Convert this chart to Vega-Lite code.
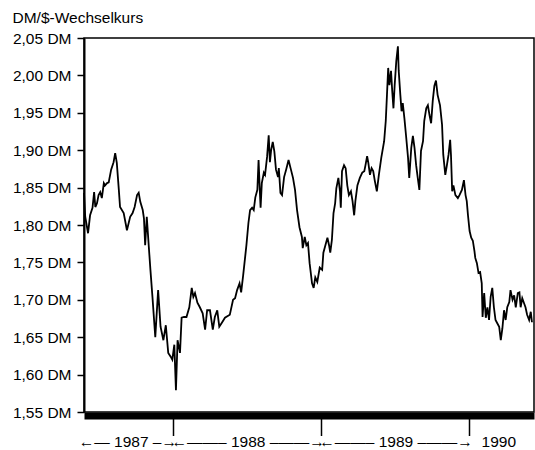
{
 "$schema": "https://vega.github.io/schema/vega-lite/v6.json",
 "width": 450,
 "height": 374,
 "autosize": "none",
 "padding": {"left": 84, "top": 38, "right": 1, "bottom": 38},
 "background": "white",
 "config": {"font": "Liberation Sans", "view": {"stroke": "black", "strokeWidth": 1.5}},
 "data": {"values": [
{"Datum":"1987-05-26","Kurs":1.843},{"Datum":"1987-05-29","Kurs":1.811},{"Datum":"1987-06-05","Kurs":1.789},{"Datum":"1987-06-10","Kurs":1.813},{"Datum":"1987-06-16","Kurs":1.823},{"Datum":"1987-06-20","Kurs":1.844},{"Datum":"1987-06-23","Kurs":1.824},{"Datum":"1987-06-27","Kurs":1.829},{"Datum":"1987-07-01","Kurs":1.840},{"Datum":"1987-07-05","Kurs":1.844},{"Datum":"1987-07-09","Kurs":1.836},{"Datum":"1987-07-14","Kurs":1.856},{"Datum":"1987-07-17","Kurs":1.853},{"Datum":"1987-07-22","Kurs":1.856},{"Datum":"1987-07-26","Kurs":1.857},{"Datum":"1987-08-01","Kurs":1.874},{"Datum":"1987-08-07","Kurs":1.884},{"Datum":"1987-08-11","Kurs":1.896},{"Datum":"1987-08-15","Kurs":1.883},{"Datum":"1987-08-20","Kurs":1.847},{"Datum":"1987-08-23","Kurs":1.824},{"Datum":"1987-09-01","Kurs":1.816},{"Datum":"1987-09-09","Kurs":1.793},{"Datum":"1987-09-17","Kurs":1.811},{"Datum":"1987-09-23","Kurs":1.816},{"Datum":"1987-09-28","Kurs":1.824},{"Datum":"1987-10-04","Kurs":1.840},{"Datum":"1987-10-08","Kurs":1.843},{"Datum":"1987-10-12","Kurs":1.831},{"Datum":"1987-10-18","Kurs":1.820},{"Datum":"1987-10-21","Kurs":1.809},{"Datum":"1987-10-24","Kurs":1.773},{"Datum":"1987-10-28","Kurs":1.811},{"Datum":"1987-11-02","Kurs":1.771},{"Datum":"1987-11-06","Kurs":1.740},{"Datum":"1987-11-11","Kurs":1.704},{"Datum":"1987-11-18","Kurs":1.650},{"Datum":"1987-11-25","Kurs":1.713},{"Datum":"1987-12-01","Kurs":1.664},{"Datum":"1987-12-08","Kurs":1.646},{"Datum":"1987-12-14","Kurs":1.666},{"Datum":"1987-12-20","Kurs":1.629},{"Datum":"1987-12-26","Kurs":1.624},{"Datum":"1987-12-30","Kurs":1.620},
{"Datum":"1988-01-04","Kurs":1.640},{"Datum":"1988-01-08","Kurs":1.579},{"Datum":"1988-01-12","Kurs":1.646},{"Datum":"1988-01-18","Kurs":1.629},{"Datum":"1988-01-22","Kurs":1.676},{"Datum":"1988-01-28","Kurs":1.677},{"Datum":"1988-02-03","Kurs":1.677},{"Datum":"1988-02-10","Kurs":1.690},{"Datum":"1988-02-16","Kurs":1.716},{"Datum":"1988-02-20","Kurs":1.704},{"Datum":"1988-02-24","Kurs":1.709},{"Datum":"1988-03-01","Kurs":1.696},{"Datum":"1988-03-07","Kurs":1.690},{"Datum":"1988-03-14","Kurs":1.682},{"Datum":"1988-03-20","Kurs":1.660},{"Datum":"1988-03-25","Kurs":1.686},{"Datum":"1988-04-01","Kurs":1.686},{"Datum":"1988-04-08","Kurs":1.660},{"Datum":"1988-04-13","Kurs":1.677},{"Datum":"1988-04-19","Kurs":1.686},{"Datum":"1988-04-24","Kurs":1.664},{"Datum":"1988-04-30","Kurs":1.669},{"Datum":"1988-05-08","Kurs":1.676},{"Datum":"1988-05-20","Kurs":1.680},{"Datum":"1988-05-28","Kurs":1.700},{"Datum":"1988-06-02","Kurs":1.702},{"Datum":"1988-06-07","Kurs":1.713},{"Datum":"1988-06-13","Kurs":1.722},{"Datum":"1988-06-17","Kurs":1.710},{"Datum":"1988-06-22","Kurs":1.733},{"Datum":"1988-06-30","Kurs":1.773},{"Datum":"1988-07-05","Kurs":1.803},{"Datum":"1988-07-09","Kurs":1.820},{"Datum":"1988-07-14","Kurs":1.823},{"Datum":"1988-07-18","Kurs":1.820},{"Datum":"1988-07-22","Kurs":1.837},{"Datum":"1988-07-27","Kurs":1.847},{"Datum":"1988-07-30","Kurs":1.887},{"Datum":"1988-08-02","Kurs":1.847},{"Datum":"1988-08-04","Kurs":1.823},{"Datum":"1988-08-07","Kurs":1.856},{"Datum":"1988-08-12","Kurs":1.870},{"Datum":"1988-08-15","Kurs":1.867},{"Datum":"1988-08-20","Kurs":1.891},{"Datum":"1988-08-24","Kurs":1.920},{"Datum":"1988-08-27","Kurs":1.884},{"Datum":"1988-08-30","Kurs":1.900},{"Datum":"1988-09-03","Kurs":1.911},{"Datum":"1988-09-07","Kurs":1.898},{"Datum":"1988-09-11","Kurs":1.874},{"Datum":"1988-09-16","Kurs":1.864},{"Datum":"1988-09-18","Kurs":1.876},{"Datum":"1988-09-22","Kurs":1.843},{"Datum":"1988-09-26","Kurs":1.840},{"Datum":"1988-10-01","Kurs":1.864},{"Datum":"1988-10-06","Kurs":1.874},{"Datum":"1988-10-12","Kurs":1.887},{"Datum":"1988-10-17","Kurs":1.876},{"Datum":"1988-10-23","Kurs":1.863},{"Datum":"1988-10-28","Kurs":1.847},{"Datum":"1988-11-02","Kurs":1.820},{"Datum":"1988-11-08","Kurs":1.797},{"Datum":"1988-11-14","Kurs":1.784},{"Datum":"1988-11-16","Kurs":1.769},{"Datum":"1988-11-21","Kurs":1.784},{"Datum":"1988-11-25","Kurs":1.773},{"Datum":"1988-11-29","Kurs":1.776},{"Datum":"1988-12-03","Kurs":1.749},{"Datum":"1988-12-09","Kurs":1.722},{"Datum":"1988-12-13","Kurs":1.716},{"Datum":"1988-12-17","Kurs":1.730},{"Datum":"1988-12-22","Kurs":1.724},{"Datum":"1988-12-28","Kurs":1.743},
{"Datum":"1989-01-03","Kurs":1.740},{"Datum":"1989-01-06","Kurs":1.763},{"Datum":"1989-01-10","Kurs":1.771},{"Datum":"1989-01-16","Kurs":1.783},{"Datum":"1989-01-20","Kurs":1.773},{"Datum":"1989-01-23","Kurs":1.763},{"Datum":"1989-01-27","Kurs":1.780},{"Datum":"1989-01-31","Kurs":1.816},{"Datum":"1989-02-04","Kurs":1.829},{"Datum":"1989-02-07","Kurs":1.849},{"Datum":"1989-02-12","Kurs":1.863},{"Datum":"1989-02-16","Kurs":1.845},{"Datum":"1989-02-18","Kurs":1.823},{"Datum":"1989-02-21","Kurs":1.872},{"Datum":"1989-02-26","Kurs":1.880},{"Datum":"1989-03-02","Kurs":1.876},{"Datum":"1989-03-06","Kurs":1.853},{"Datum":"1989-03-10","Kurs":1.840},{"Datum":"1989-03-15","Kurs":1.845},{"Datum":"1989-03-19","Kurs":1.832},{"Datum":"1989-03-23","Kurs":1.813},{"Datum":"1989-03-26","Kurs":1.832},{"Datum":"1989-03-31","Kurs":1.853},{"Datum":"1989-04-06","Kurs":1.863},{"Datum":"1989-04-12","Kurs":1.870},{"Datum":"1989-04-17","Kurs":1.872},{"Datum":"1989-04-20","Kurs":1.880},{"Datum":"1989-04-24","Kurs":1.892},{"Datum":"1989-04-27","Kurs":1.883},{"Datum":"1989-05-01","Kurs":1.867},{"Datum":"1989-05-05","Kurs":1.876},{"Datum":"1989-05-09","Kurs":1.872},{"Datum":"1989-05-13","Kurs":1.859},{"Datum":"1989-05-18","Kurs":1.845},{"Datum":"1989-05-23","Kurs":1.867},{"Datum":"1989-05-29","Kurs":1.890},{"Datum":"1989-06-05","Kurs":1.912},{"Datum":"1989-06-09","Kurs":1.939},{"Datum":"1989-06-12","Kurs":1.974},{"Datum":"1989-06-15","Kurs":2.010},{"Datum":"1989-06-18","Kurs":1.987},{"Datum":"1989-06-22","Kurs":2.006},{"Datum":"1989-06-25","Kurs":1.979},{"Datum":"1989-06-28","Kurs":1.956},{"Datum":"1989-07-01","Kurs":1.987},{"Datum":"1989-07-05","Kurs":2.019},{"Datum":"1989-07-09","Kurs":2.039},{"Datum":"1989-07-11","Kurs":2.006},{"Datum":"1989-07-15","Kurs":1.974},{"Datum":"1989-07-18","Kurs":1.952},{"Datum":"1989-07-21","Kurs":1.963},{"Datum":"1989-07-25","Kurs":1.943},{"Datum":"1989-07-29","Kurs":1.920},{"Datum":"1989-08-03","Kurs":1.890},{"Datum":"1989-08-06","Kurs":1.863},{"Datum":"1989-08-11","Kurs":1.903},{"Datum":"1989-08-15","Kurs":1.919},{"Datum":"1989-08-19","Kurs":1.903},{"Datum":"1989-08-23","Kurs":1.880},{"Datum":"1989-08-27","Kurs":1.863},{"Datum":"1989-08-31","Kurs":1.847},{"Datum":"1989-09-04","Kurs":1.899},{"Datum":"1989-09-09","Kurs":1.912},{"Datum":"1989-09-12","Kurs":1.939},{"Datum":"1989-09-17","Kurs":1.956},{"Datum":"1989-09-21","Kurs":1.960},{"Datum":"1989-09-25","Kurs":1.947},{"Datum":"1989-09-29","Kurs":1.936},{"Datum":"1989-10-03","Kurs":1.966},{"Datum":"1989-10-07","Kurs":1.986},{"Datum":"1989-10-11","Kurs":1.993},{"Datum":"1989-10-15","Kurs":1.974},{"Datum":"1989-10-21","Kurs":1.960},{"Datum":"1989-10-26","Kurs":1.934},{"Datum":"1989-10-29","Kurs":1.894},{"Datum":"1989-11-03","Kurs":1.867},{"Datum":"1989-11-07","Kurs":1.880},{"Datum":"1989-11-11","Kurs":1.894},{"Datum":"1989-11-15","Kurs":1.914},{"Datum":"1989-11-17","Kurs":1.894},{"Datum":"1989-11-20","Kurs":1.845},{"Datum":"1989-11-23","Kurs":1.853},{"Datum":"1989-11-28","Kurs":1.840},{"Datum":"1989-12-04","Kurs":1.836},{"Datum":"1989-12-08","Kurs":1.840},{"Datum":"1989-12-14","Kurs":1.847},{"Datum":"1989-12-19","Kurs":1.860},{"Datum":"1989-12-23","Kurs":1.840},{"Datum":"1989-12-26","Kurs":1.832},{"Datum":"1989-12-29","Kurs":1.813},
{"Datum":"1990-01-02","Kurs":1.792},{"Datum":"1990-01-06","Kurs":1.783},{"Datum":"1990-01-10","Kurs":1.779},{"Datum":"1990-01-14","Kurs":1.765},{"Datum":"1990-01-16","Kurs":1.756},{"Datum":"1990-01-20","Kurs":1.749},{"Datum":"1990-01-24","Kurs":1.736},{"Datum":"1990-01-28","Kurs":1.737},{"Datum":"1990-02-01","Kurs":1.722},{"Datum":"1990-02-03","Kurs":1.677},{"Datum":"1990-02-07","Kurs":1.709},{"Datum":"1990-02-11","Kurs":1.676},{"Datum":"1990-02-15","Kurs":1.690},{"Datum":"1990-02-19","Kurs":1.673},{"Datum":"1990-02-23","Kurs":1.704},{"Datum":"1990-02-27","Kurs":1.716},{"Datum":"1990-03-03","Kurs":1.690},{"Datum":"1990-03-07","Kurs":1.673},{"Datum":"1990-03-11","Kurs":1.669},{"Datum":"1990-03-16","Kurs":1.664},{"Datum":"1990-03-20","Kurs":1.646},{"Datum":"1990-03-24","Kurs":1.662},{"Datum":"1990-03-28","Kurs":1.686},{"Datum":"1990-04-01","Kurs":1.673},{"Datum":"1990-04-05","Kurs":1.690},{"Datum":"1990-04-10","Kurs":1.697},{"Datum":"1990-04-13","Kurs":1.713},{"Datum":"1990-04-18","Kurs":1.700},{"Datum":"1990-04-22","Kurs":1.706},{"Datum":"1990-04-26","Kurs":1.690},{"Datum":"1990-05-01","Kurs":1.709},{"Datum":"1990-05-05","Kurs":1.710},{"Datum":"1990-05-08","Kurs":1.690},{"Datum":"1990-05-12","Kurs":1.702},{"Datum":"1990-05-16","Kurs":1.696},{"Datum":"1990-05-20","Kurs":1.690},{"Datum":"1990-05-24","Kurs":1.680},{"Datum":"1990-05-29","Kurs":1.673},{"Datum":"1990-06-02","Kurs":1.684},{"Datum":"1990-06-05","Kurs":1.670}
 ]},
 "layer": [
  {
   "mark": {"type": "line", "color": "black", "strokeWidth": 1.8},
   "encoding": {
    "x": {"field": "Datum", "type": "temporal",
     "scale": {"domain": [{"year": 1987, "month": 5, "date": 26, "utc": true}, {"year": 1990, "month": 6, "date": 10, "utc": true}]},
     "axis": {"orient": "bottom", "values": [{"year": 1988, "month": 1, "date": 1, "utc": true}, {"year": 1989, "month": 1, "date": 1, "utc": true}, {"year": 1990, "month": 1, "date": 1, "utc": true}],
      "labels": false, "tickSize": 20, "tickWidth": 1.5, "tickColor": "black", "domainColor": "black", "domainWidth": 7, "offset": 3.5, "grid": false, "title": null}},
    "y": {"field": "Kurs", "type": "quantitative",
     "scale": {"domain": [1.55, 2.05], "zero": false, "nice": false},
     "axis": {"values": [1.55, 1.6, 1.65, 1.7, 1.75, 1.8, 1.85, 1.9, 1.95, 2.0, 2.05],
      "labelExpr": "replace(format(datum.value, '.2f'), '.', ',') + ' DM'",
      "tickSize": 7, "tickWidth": 1.5, "tickColor": "black", "domainColor": "black", "domainWidth": 2,
      "labelFontSize": 15.5, "labelColor": "black", "labelPadding": 6, "grid": false,
      "title": "DM/$-Wechselkurs", "titleAngle": 0, "titleAlign": "left", "titleBaseline": "alphabetic",
      "titleX": -72, "titleY": -16, "titleFontSize": 15.5, "titleFontWeight": "normal", "titleColor": "black"}}
   }
  },
  {
   "mark": {"type": "point", "opacity": 0},
   "encoding": {
    "x": {"field": "Datum", "type": "temporal",
     "axis": {"orient": "bottom", "values": [{"year": 1987, "month": 9, "date": 10, "utc": true}, {"year": 1988, "month": 7, "date": 3, "utc": true}, {"year": 1989, "month": 7, "date": 3, "utc": true}, {"year": 1990, "month": 3, "date": 14, "utc": true}],
      "labelExpr": "utcyear(datum.value) == 1987 ? '←— 1987 –→' : utcyear(datum.value) == 1990 ? '1990' : '←——– ' + utcyear(datum.value) + ' –——→'",
      "tickSize": 0, "domain": false, "grid": false, "title": null, "labelFontSize": 15.5, "labelColor": "black",
      "labelPadding": 19, "offset": 3.5, "labelOverlap": false, "labelFlush": false, "labelBound": false}}
   }
  }
 ],
 "resolve": {"axis": {"x": "independent"}}
}
